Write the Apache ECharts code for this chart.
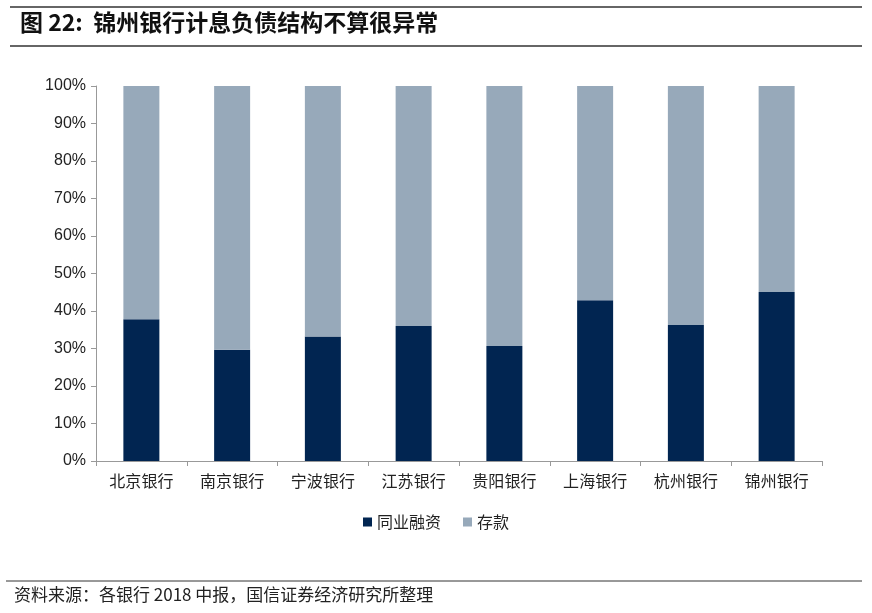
<!DOCTYPE html>
<html><head><meta charset="utf-8">
<script src="https://cdn.jsdelivr.net/npm/echarts@6/dist/echarts.min.js"></script>
<style>html,body{margin:0;padding:0;background:#fff}#c{width:872px;height:613px}</style>
</head><body><div id="c"></div>
<script>
var categories = ['北京银行','南京银行','宁波银行','江苏银行','贵阳银行','上海银行','杭州银行','锦州银行'];
var interbank = [37.8, 29.7, 33.2, 36.0, 30.7, 42.9, 36.3, 45.1];
var deposits = interbank.map(function(v){return +(100 - v).toFixed(1);});
var seriesNames = ['同业融资','存款'];
var yTicks = [0,10,20,30,40,50,60,70,80,90,100];

var chart = echarts.init(document.getElementById('c'));
var font = '"Noto Sans CJK SC", sans-serif';
chart.setOption({
  animation: false,
  textStyle: {fontFamily: font},
  graphic: [
    {type:'line', shape:{x1:10,y1:7,x2:862,y2:7}, style:{stroke:'#333',lineWidth:1.5}},
    {type:'text', left:20, top:11, style:{text:'图 22:  锦州银行计息负债结构不算很异常', font:'bold 23px "Noto Sans CJK SC", sans-serif', fill:'#111'}},
    {type:'line', shape:{x1:10,y1:46,x2:862,y2:46}, style:{stroke:'#333',lineWidth:1.5}},
    {type:'line', shape:{x1:6,y1:581,x2:862,y2:581}, style:{stroke:'#333',lineWidth:1}},
    {type:'text', left:14, top:586, style:{text:'资料来源：各银行 2018 中报，国信证券经济研究所整理', font:'17px "Noto Sans CJK SC", sans-serif', fill:'#222'}}
  ],
  legend: {
    data: seriesNames, bottom: 78, left: 'center', itemWidth: 9, itemHeight: 9, itemGap: 22,
    icon: 'rect', textStyle: {fontSize: 16, color: '#222', fontFamily: font}
  },
  grid: {left: 96, right: 50, top: 86, bottom: 152},
  xAxis: {
    type: 'category', data: categories,
    axisLine: {lineStyle: {color: '#999'}},
    axisTick: {show: true, alignWithLabel: false, length: 5, lineStyle: {color: '#999'}},
    axisLabel: {fontSize: 16, color: '#222', margin: 12, fontFamily: font}
  },
  yAxis: {
    type: 'value', min: 0, max: 100, interval: 10,
    axisLine: {show: true, lineStyle: {color: '#999'}},
    axisTick: {show: true, length: 5, lineStyle: {color: '#999'}},
    splitLine: {show: false},
    axisLabel: {fontSize: 16, color: '#222', margin: 10, fontFamily: 'Arial, "Liberation Sans", sans-serif', formatter: '{value}%'}
  },
  series: [
    {name: seriesNames[0], type: 'bar', stack: 's', data: interbank, barWidth: 36, itemStyle: {color: '#012551'}},
    {name: seriesNames[1], type: 'bar', stack: 's', data: deposits, barWidth: 36, itemStyle: {color: '#97A9BA'}}
  ]
});
</script></body></html>
